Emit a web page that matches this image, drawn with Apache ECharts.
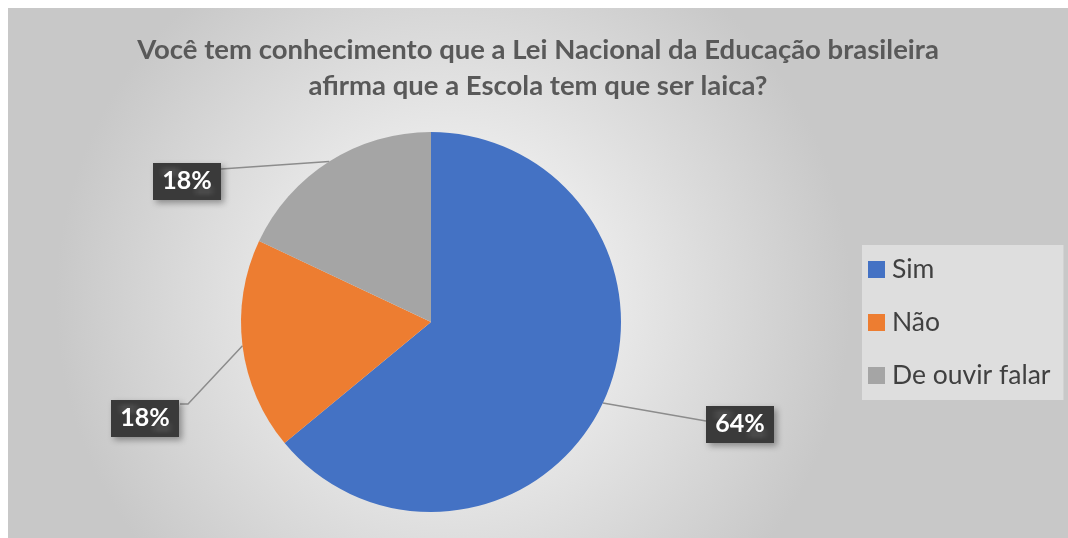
<!DOCTYPE html>
<html><head><meta charset="utf-8">
<script src="https://cdn.jsdelivr.net/npm/echarts@6/dist/echarts.min.js"></script>
<style>html,body{margin:0;padding:0;background:#fff}#c{position:absolute;left:8px;top:8px;width:1060px;height:530px}</style>
</head><body><div id="c"></div>
<script>
const titleText = 'Você tem conhecimento que a Lei Nacional da Educação brasileira\nafirma que a Escola tem que ser laica?';
const categories = ['Sim', 'Não', 'De ouvir falar'];
const values = [64, 18, 18];
const colors = ['#4472C4', '#ED7D31', '#A5A5A5'];

const pat = document.createElement('canvas');
pat.width = 8; pat.height = 8;
const g = pat.getContext('2d');
g.fillStyle = '#3a3a3a'; g.fillRect(0,0,8,8);
g.fillStyle = '#4a4a4a'; g.fillRect(1,1,2,2); g.fillRect(5,5,2,2);

// label box centres (container px) and leader-line attach offsets from the centre
const labelPos = [[732, 416], [137, 410], [179, 173]];
const lineAttach = [[-34, -3, 0], [35, -14, 8], [34, -12, 0]]; // dx, dy, elbow length

const chart = echarts.init(document.getElementById('c'));
const font = 'Lato, "Noto Sans", sans-serif';
chart.setOption({
  backgroundColor: {
    type: 'radial', x: 0.42, y: 0.55, r: 0.75,
    colorStops: [{offset: 0, color: '#ffffff'}, {offset: 1, color: '#c8c8c8'}]
  },
  title: {
    text: titleText, left: 'center', top: 19,
    textStyle: {fontFamily: font, fontWeight: 'bold', fontSize: 27.5, color: '#595959', lineHeight: 36}
  },
  legend: {
    orient: 'vertical', left: 854, top: 237, width: 200,
    padding: [11, 13, 11, 6],
    backgroundColor: 'rgba(240,240,240,0.55)',
    itemWidth: 17, itemHeight: 17, itemGap: 26, icon: 'rect',
    textStyle: {fontFamily: font, fontSize: 26.5, color: '#404040', padding: [0,0,0,2]},
    data: categories
  },
  series: [{
    type: 'pie', center: [423, 314], radius: 190, startAngle: 90, clockwise: true,
    color: colors,
    data: categories.map((n, i) => ({name: n, value: values[i]})),
    itemStyle: {borderWidth: 0},
    label: {
      show: true, position: 'outside',
      formatter: p => Math.round(p.percent) + '%',
      fontFamily: font, fontWeight: 'bold', fontSize: 25, color: '#fff',
      backgroundColor: {image: pat}, padding: [7, 9, 5, 9],
      shadowBlur: 6, shadowOffsetX: 3, shadowOffsetY: 3, shadowColor: 'rgba(0,0,0,0.35)'
    },
    labelLine: {show: true, length: 30, length2: 40, lineStyle: {color: '#8c8c8c', width: 1.5}},
    labelLayout: p => {
      const i = p.dataIndex;
      const [cx, cy] = labelPos[i];
      const [ax, ay, elbow] = lineAttach[i];
      const start = p.labelLinePoints[0];
      const end = [cx + ax, cy + ay];
      const mid = [end[0] + Math.sign(ax) * elbow, end[1]];
      return {x: cx, y: cy, align: 'center', verticalAlign: 'middle', labelLinePoints: [start, mid, end]};
    },
    emphasis: {disabled: true}
  }]
});
</script></body></html>
